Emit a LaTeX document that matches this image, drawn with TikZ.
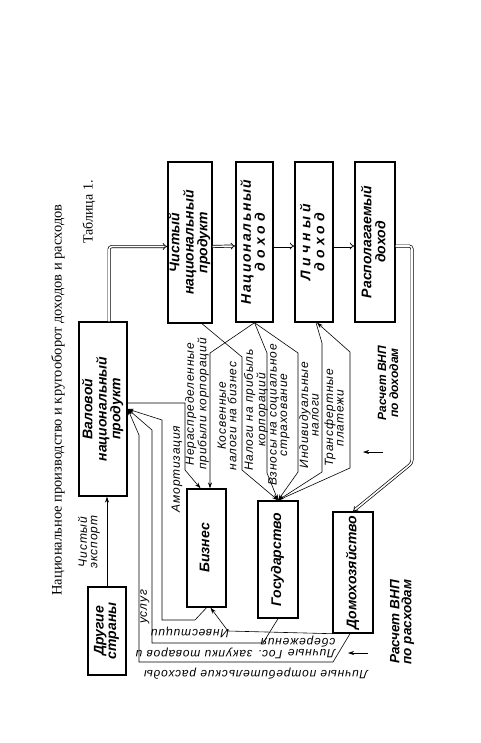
\documentclass[tikz,border=0pt]{standalone}
\usepackage{fontspec}
\setmainfont{Liberation Serif}
\setsansfont{Liberation Sans}
\usetikzlibrary{arrows.meta, positioning}

\newcommand{\vtext}[1]{\rotatebox{90}{\begin{tabular}{@{}c@{}}#1\end{tabular}}}
\newcommand{\spc}[2]{{\addfontfeature{LetterSpace=#1}#2}}

\begin{document}
\begin{tikzpicture}[x=1pt, y=-1pt,
    box/.style={draw, line width=1.4pt, inner sep=0pt,
        font={\sffamily\bfseries\itshape\fontsize{14}{12.5}\selectfont}},
    txt/.style={inner sep=0pt, align=center,
        font={\sffamily\itshape\fontsize{12}{10.5}\selectfont\addfontfeature{LetterSpace=7}}},
    lbl/.style={txt, rotate=90},
    dlbl/.style={txt, rotate=180},
    calc/.style={lbl, font={\sffamily\bfseries\itshape\fontsize{12}{12}\selectfont}},
    dbl/.style={double, double distance=1.6pt, line width=0.7pt, -{Implies}, rounded corners=3pt},
    >={Stealth[length=6pt, width=4pt]}, line width=0.6pt]
    \useasboundingbox (0,0) rectangle (480,743);

    % titles
    \node [rotate=90, font=\fontsize{14.5}{16}\selectfont] (title) at (58,400) {Национальное производство и кругооборот доходов и расходов};
    \node [rotate=90, font=\fontsize{14}{16}\selectfont] (tab) at (89,212) {Таблица 1.};

    % boxes
    \node [box, minimum width=48, minimum height=174] (vnp) at (103,409) {\vtext{Валовой\\национальный\\продукт}};
    \node [box, minimum width=44, minimum height=161] (chnp) at (190,242.5) {\vtext{Чистый\\национальный\\продукт}};
    \node [box, minimum width=37, minimum height=160] (nd) at (254.5,242) {\vtext{\spc{12}{Национальный}\\\spc{30}{доход}}};
    \node [box, minimum width=38, minimum height=160] (ld) at (314,242) {\vtext{\spc{30}{Личный}\\\spc{30}{доход}}};
    \node [box, minimum width=40, minimum height=160] (rd) at (375,242) {\vtext{Располагаемый\\доход}};
    \node [box, minimum width=39, minimum height=118] (biz) at (206.5,548) {\vtext{Бизнес}};
    \node [box, minimum width=40, minimum height=117] (gos) at (278,559.5) {\vtext{Государство}};
    \node [box, minimum width=40, minimum height=121] (dom) at (353,572.5) {\vtext{Домохозяйство}};
    \node [box, minimum width=38, minimum height=88] (drug) at (107,631) {\vtext{Другие\\страны}};

    % labels
    \node [lbl] (exp) at (89,542) {Чистый\\экспорт};
    \node [lbl] (amort) at (177,469) {Амортизация};
    \node [lbl] (nerasp) at (197,404) {Нераспределенные\\прибыли корпораций};
    \node [lbl] (kosv) at (227,416) {Косвенные\\налоги на бизнес};
    \node [lbl] (nalpr) at (256,410) {Налоги на прибыль\\корпораций};
    \node [lbl] (vzn) at (279,415) {Взносы на социальное\\страхование};
    \node [lbl] (indiv) at (309,415) {Индивидуальные\\налоги};
    \node [lbl] (transf) at (334,418) {Трансфертные\\платежи};
    \node [calc] (rdoh) at (388,383) {Расчет ВНП\\по доходам};
    \node [calc, font={\sffamily\bfseries\itshape\fontsize{13.5}{12}\selectfont}] (rrash) at (402,622) {Расчет ВНП\\по расходам};
    \node [dlbl] (inv) at (190,632) {Инвестиции};
    \node [dlbl] (zak) at (209,653) {Гос. закупки товаров и};
    \node [lbl] (usl) at (145,607) {услуг};
    \node [dlbl, align=left] (sber) at (298,647) {Личные\\сбережения};
    \node [dlbl] (potr) at (256,674) {Личные потребительские расходы};

    % main flow
    \draw [dbl] ([xshift=6pt]vnp.north) |- ([yshift=-4pt]chnp.west);
    \draw [dbl] ([yshift=-4pt]chnp.east) -- ([yshift=-4pt]nd.west);
    \draw [dbl] ([yshift=-4pt]nd.east) -- ([yshift=-4pt]ld.west);
    \draw [dbl] ([yshift=-4pt]ld.east) -- ([yshift=-4pt]rd.west);
    \draw [dbl] ([yshift=-4pt]rd.east) -| (412,463) -- (dom.north);
    \draw [->] (drug.north) -- (drug.north |- vnp.south);

    % deductions
    \draw [->] ([yshift=6pt]vnp.east) -- (185,403) -- (185,470) -- ([xshift=-6pt]biz.north);
    \draw [->] (nd.south) -- (210,353) -- ([xshift=3.5pt]biz.north);
    \draw [->] ([xshift=12pt]chnp.south) -- (242,357) -- (242,470) -- (gos.north);
    \draw [->] (nd.south) -- (267,353) -- (267,473) -- (gos.north);
    \draw [->] (nd.south) -- (298,353) -- (298,472) -- (gos.north);
    \draw [->] ([xshift=2pt]ld.south) -- (322,343) -- (322,472) -- (gos.north);
    \draw [->] (gos.north) -- (350,468) -- (350,352) -- ([xshift=3pt]ld.south);

    % spending
    \draw [->] (biz.south) -- (195,620) -- (162,620) -- (162,420) -- (vnp.east);
    \draw [->] (gos.south) -- (263,643) -- (152,643) -- (152,430) -- (vnp.east);
    \draw [->] ([xshift=-3pt]dom.south) -- (333,662) -- (139,662) -- (139,435) -- (vnp.east);
    \draw [->] (dom.south west) -- (228,631) -- ([xshift=4pt]biz.south);

    % reading direction
    \coordinate (a1) at (383,452);
    \coordinate (a2) at (363,452);
    \coordinate (b1) at (368,653);
    \coordinate (b2) at (348,653);
    \draw [->] (a1) -- (a2);
    \draw [->] (b1) -- (b2);
\end{tikzpicture}
\end{document}
